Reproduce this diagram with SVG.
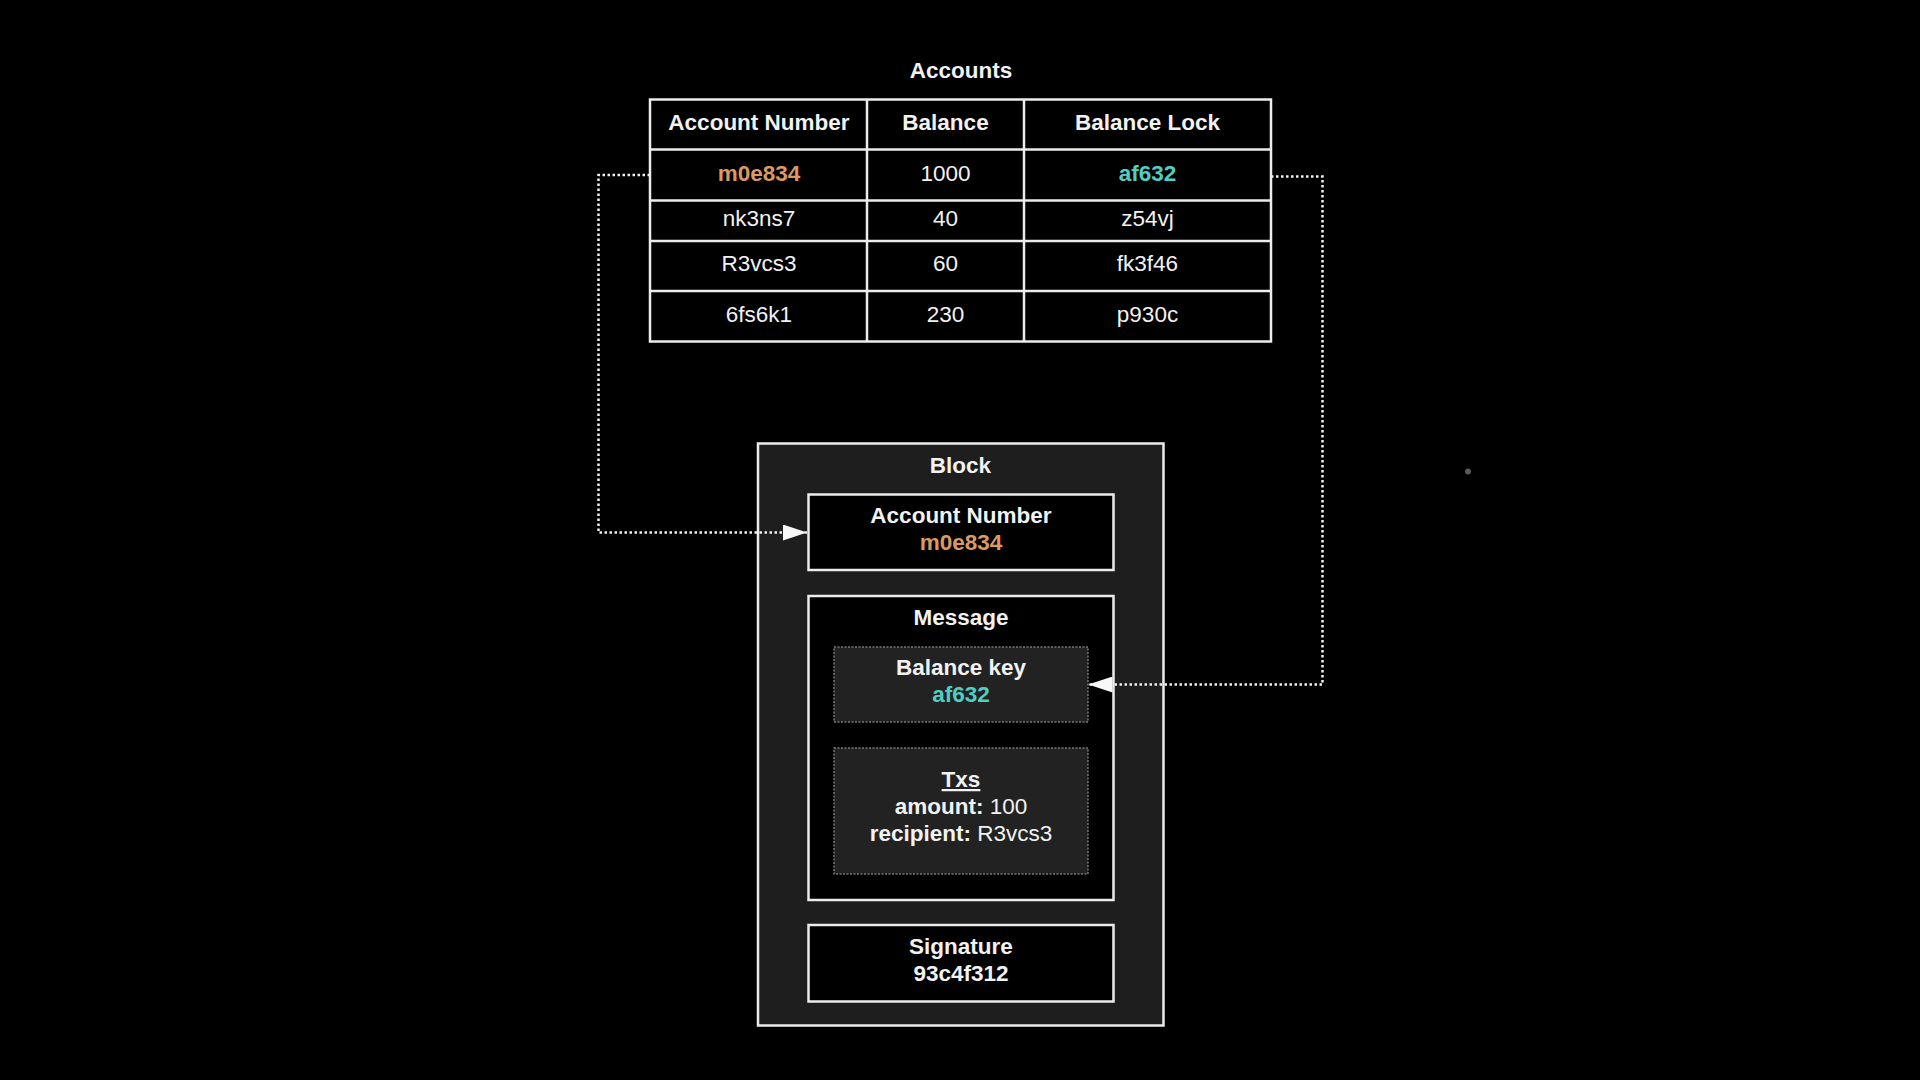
<svg xmlns="http://www.w3.org/2000/svg" width="1920" height="1080" viewBox="0 0 1920 1080">
  <style>
    text { font-family: "Liberation Sans", Arial, sans-serif; fill: #f2f2f2; text-anchor: middle; }
    .b { font-weight: bold; font-size: 22.5px; }
    .r { font-size: 22.5px; }
    .orange { fill: #dc9a62; }
    .cyan { fill: #4fcfc4; }
    .grid { fill: none; stroke: #ececec; stroke-width: 2.5; }
    .box { fill: #000; stroke: #ececec; stroke-width: 2.5; }
    .outer { fill: #1e1e1e; stroke: #ececec; stroke-width: 2.5; }
    .inner { fill: #222; stroke: #777; stroke-width: 1.5; stroke-dasharray: 2 1.5; }
    .conn { fill: none; stroke: #f2f2f2; stroke-width: 2.5; stroke-dasharray: 2.5 2.5; }
  </style>
  <defs>
    <marker id="arrow" viewBox="0 0 24 16" refX="24" refY="8" markerWidth="24" markerHeight="16" markerUnits="userSpaceOnUse" orient="auto">
      <path d="M0,0 L24,8 L0,16 Z" fill="#f8f8f8"/>
    </marker>
  </defs>
  <rect width="1920" height="1080" fill="#000"/>

  <g id="accounts-table">
    <text class="b" x="961" y="78">Accounts</text>
    <rect class="grid" x="650" y="99.5" width="621" height="242"/>
    <line class="grid" x1="867" y1="99.5" x2="867" y2="341.5"/>
    <line class="grid" x1="1024" y1="99.5" x2="1024" y2="341.5"/>
    <line class="grid" x1="650" y1="149.5" x2="1271" y2="149.5"/>
    <line class="grid" x1="650" y1="200.5" x2="1271" y2="200.5"/>
    <line class="grid" x1="650" y1="241" x2="1271" y2="241"/>
    <line class="grid" x1="650" y1="291" x2="1271" y2="291"/>
    <text class="b" x="759" y="130">Account Number</text>
    <text class="b" x="945.5" y="130">Balance</text>
    <text class="b" x="1147.5" y="130">Balance Lock</text>
    <text class="b orange" x="759" y="180.5">m0e834</text>
    <text class="r" x="945.5" y="180.5">1000</text>
    <text class="b cyan" x="1147.5" y="180.5">af632</text>
    <text class="r" x="759" y="225.5">nk3ns7</text>
    <text class="r" x="945.5" y="225.5">40</text>
    <text class="r" x="1147.5" y="225.5">z54vj</text>
    <text class="r" x="759" y="271">R3vcs3</text>
    <text class="r" x="945.5" y="271">60</text>
    <text class="r" x="1147.5" y="271">fk3f46</text>
    <text class="r" x="759" y="322">6fs6k1</text>
    <text class="r" x="945.5" y="322">230</text>
    <text class="r" x="1147.5" y="322">p930c</text>
  </g>

  <g id="block">
    <rect class="outer" x="758" y="443.5" width="405.5" height="582"/>
    <text class="b" x="960.5" y="473">Block</text>
  </g>

  <g id="account-number">
    <rect class="box" x="808.5" y="494.5" width="305" height="75.5"/>
    <text class="b" x="961" y="523">Account Number</text>
    <text class="b orange" x="961" y="549.5">m0e834</text>
  </g>

  <g id="message">
    <rect class="box" x="808.5" y="596" width="305" height="304"/>
    <text class="b" x="961" y="625">Message</text>
  </g>

  <g id="balance-key">
    <rect class="inner" x="834" y="647" width="254" height="75"/>
    <text class="b" x="961" y="675">Balance key</text>
    <text class="b cyan" x="961" y="702">af632</text>
  </g>

  <g id="txs">
    <rect class="inner" x="834" y="748" width="254" height="126"/>
    <text class="b" x="961" y="787" text-decoration="underline">Txs</text>
    <text x="961" y="813.5" class="r"><tspan font-weight="bold">amount:</tspan> 100</text>
    <text x="961" y="841" class="r"><tspan font-weight="bold">recipient:</tspan> R3vcs3</text>
  </g>

  <g id="signature">
    <rect class="box" x="808.5" y="925" width="305" height="76.5"/>
    <text class="b" x="961" y="953.5">Signature</text>
    <text class="b" x="961" y="981">93c4f312</text>
  </g>

  <g id="connectors">
    <path class="conn" d="M650,175 H598.5 V532.5 H807" marker-end="url(#arrow)"/>
    <path class="conn" d="M1271,176.5 H1322.5 V684.5 H1088.5" marker-end="url(#arrow)"/>
  </g>

  <circle cx="1468" cy="471.5" r="3" fill="#5a5a5a"/>
</svg>
